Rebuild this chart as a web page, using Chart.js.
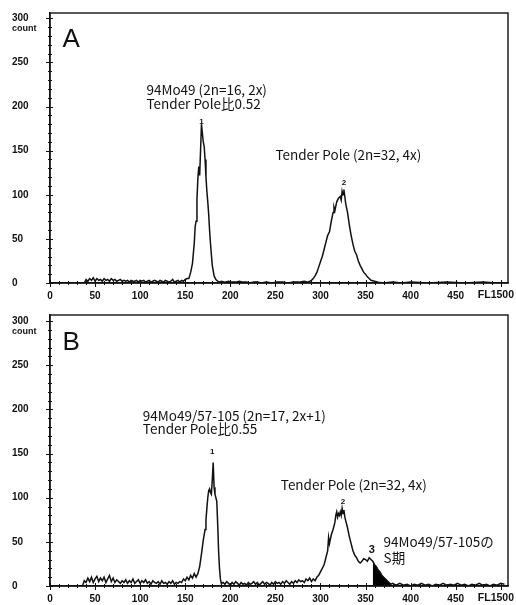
<!DOCTYPE html>
<html lang="ja">
<head>
<meta charset="UTF-8">
<title>FL1 histograms</title>
<script src="https://cdn.jsdelivr.net/npm/chart.js"></script>
<style>
  body { margin: 0; background: #fff; }
  canvas { display: block; }
</style>
</head>
<body>
<canvas id="chartA" width="516" height="300"></canvas>
<canvas id="chartB" width="516" height="305"></canvas>
<script>
// Panel A: FL1 channel / count
const channelsA = [
  38,40,42,44,46,48,50,52,54,56, 58,60,62,64,66,68,70,72,74,76,
  78,80,82,84,86,88,90,92,94,96, 98,100,102,104,106,108,110,112,114,116,
  118,120,122,124,126,128,130,132,134,136, 138,140,142,144,146,148,150,152,
  154,156,158,160,161,162,163,164,165,166,167,168,169,170,171,172,173,174,175,176,
  177,178,179,180,181,182,184,186,
  188,190,194,198,202,206,210,214,218,222,226,230,234,240,246,252,258,264,270,276,282,286,290,292,294,
  296,298,300,302,304,306,308,310,312,314,315,316,318,320,322,323,324,325,326,327,328,
  330,332,334,336,338,340,342,344,346,348,350,352,354,356,360,364,370,380,390,400,420,440,460,480,495
];
const countsA = [
  0,4,2,5,3,6,2,5,3,4, 2,5,3,4,2,5,3,4,2,3,
  4,2,3,2,3,1,3,2,2,3, 1,3,2,3,1,2,3,1,2,3,
  2,1,3,2,1,3,2,1,2,4, 1,2,3,1,3,2,4,5,
  5,12,22,45,64,70,95,118,132,122,150,180,170,160,155,140,120,104,92,78,
  60,45,32,20,14,8,4,2,
  1,2,1,2,1,1,2,1,1,0,1,1,0,1,0,1,1,0,1,1,2,1,3,5,8,
  12,18,24,30,38,46,54,58,70,80,86,82,92,96,98,94,104,100,106,98,90,
  80,66,54,44,36,32,25,20,16,12,10,7,5,3,2,1,0,1,0,1,0,1,0,1,0
];

// Panel B
const channelsB = [
  36,38,40,42,44,46,48,50,52,54, 56,58,60,62,64,66,68,70,72,74,
  76,78,80,82,84,86,88,90,92,94, 96,98,100,102,104,106,108,110,112,114,
  116,118,120,122,124,126,128,130,132,134, 136,138,140,142,144,146,148,150,152,154,
  156,158,160,162,
  164,166,168,170,171,172,173,174,175,176,177,178,179,180,181,182,183,184,185,186,187,188,189,190,
  192,194,196,198,200,202,204,206,208,210, 212,214,216,218,220,222,224,226,228,230,
  232,234,236,238,240,242,244,246,248,250, 252,254,256,258,260,262,264,266,268,270,
  272,274,276,278,280,282,284,286,288,290, 292,294,296,
  298,300,302,304,306,308,309,310,312,314,
  316,317,318,319,320,321,322,323,324,325,326,327,
  328,330,332,334,336,338,340,342,344,346,348,350,352,354,356,358,360,362,364,366,368,370,372,374,376,378,
  380,384,388,392,396,400,404,408,412,416,420,424,428,432,436,440,444,448,452,456,460,464,468,472,476,480,484,488,492,496,500,504
];
const countsB = [
  0,6,4,9,5,10,4,8,11,5, 9,6,10,4,8,12,5,9,4,7,
  5,3,6,4,7,3,6,4,8,3, 5,7,3,6,4,7,3,5,2,6,
  4,3,5,2,6,3,4,2,5,3, 6,2,4,3,5,4,8,6,10,7,
  12,9,14,10,
  14,22,36,52,58,64,75,88,100,108,110,106,104,120,140,112,104,100,96,70,40,20,8,3,
  4,2,5,3,1,4,2,5,3,1, 4,2,3,1,4,2,3,5,2,4,
  1,3,5,2,4,3,1,4,2,5, 3,4,2,5,3,6,4,2,5,3,
  6,4,7,5,6,4,8,6,9,5, 8,6,10,
  12,16,20,24,32,40,55,48,58,64,
  72,80,84,78,82,80,84,80,88,82,86,78,
  74,66,56,48,40,35,32,28,26,28,31,30,28,32,30,28,24,22,18,16,12,10,8,6,4,2,
  3,1,3,1,2,0,2,1,3,1,2,0,2,1,3,1,2,1,3,1,2,0,2,1,3,1,2,0,2,1,3,2
];
// S phase of 94Mo49/57-105 (shaded black)
const sPhaseRange = [358, 378];

const xTicks = [0, 50, 100, 150, 200, 250, 300, 350, 400, 450, 500];
const yTicks = [0, 50, 100, 150, 200, 250, 300];

const ink = '#111';
const tickFont = { family: 'Liberation Sans', size: 10, weight: 'bold' };
const noteFont = '13.5px "Noto Sans CJK JP"';

const notesA = [
  { text: 'A', x: 14, y: 276, font: '26px "Liberation Sans"' },
  { text: '94Mo49 (2n=16, 2x)', x: 107, y: 219, font: noteFont },
  { text: 'Tender Pole比0.52', x: 107, y: 203, font: noteFont },
  { text: '1', x: 168, y: 183, font: 'bold 8px "Liberation Sans"', align: 'center' },
  { text: 'Tender Pole (2n=32, 4x)', x: 250, y: 145, font: noteFont },
  { text: '2', x: 326, y: 114, font: 'bold 8px "Liberation Sans"', align: 'center' }
];
const notesB = [
  { text: 'B', x: 14, y: 276, font: '26px "Liberation Sans"' },
  { text: '94Mo49/57-105 (2n=17, 2x+1)', x: 103, y: 193, font: noteFont },
  { text: 'Tender Pole比0.55', x: 103, y: 178, font: noteFont },
  { text: '1', x: 180, y: 152, font: 'bold 8px "Liberation Sans"', align: 'center' },
  { text: 'Tender Pole (2n=32, 4x)', x: 256, y: 114, font: noteFont },
  { text: '2', x: 325, y: 95, font: 'bold 8px "Liberation Sans"', align: 'center' },
  { text: '3', x: 357, y: 41, font: 'bold 11px "Liberation Sans"', align: 'center' },
  { text: '94Mo49/57-105の', x: 370, y: 50, font: noteFont },
  { text: 'S期', x: 370, y: 32, font: noteFont }
];

// frame, major/minor ticks and text notes
const framePlugin = {
  id: 'frame',
  afterDatasetsDraw(chart, args, opts) {
    const { ctx, chartArea: a, scales: { x, y } } = chart;
    ctx.save();
    ctx.strokeStyle = ink;
    ctx.fillStyle = ink;
    ctx.lineWidth = 1.4;
    ctx.strokeRect(a.left, a.top, a.right - a.left, a.bottom - a.top);

    ctx.lineWidth = 1;
    ctx.beginPath();
    for (let v = 0; v <= 500; v += 10) {
      const px = Math.round(x.getPixelForValue(v)) + 0.5;
      const major = v % 50 === 0;
      ctx.moveTo(px, a.bottom - (major ? 3 : 2));
      ctx.lineTo(px, a.bottom + (major ? 4 : 2));
    }
    for (let v = 0; v <= 300; v += 10) {
      const py = Math.round(y.getPixelForValue(v)) + 0.5;
      const major = v % 50 === 0;
      ctx.moveTo(a.left - (major ? 4 : 2), py);
      ctx.lineTo(a.left + (major ? 3 : 2), py);
    }
    ctx.stroke();

    ctx.textBaseline = 'middle';
    opts.notes.forEach(n => {
      ctx.font = n.font;
      ctx.textAlign = n.align || 'left';
      ctx.fillText(n.text, x.getPixelForValue(n.x), y.getPixelForValue(n.y));
    });

    ctx.font = 'bold 9px "Liberation Sans"';
    ctx.textAlign = 'left';
    ctx.fillText('count', 12, y.getPixelForValue(300) + 10);
    ctx.font = 'bold 10.5px "Liberation Sans"';
    ctx.textAlign = 'right';
    ctx.fillText('FL1500', 514, a.bottom + 12);
    ctx.restore();
  }
};

function makeChart(id, channels, counts, yMax, padTop, xAxisH, notes, fillRange) {
  const points = channels.map((c, i) => ({ x: c, y: counts[i] }));
  const datasets = [{
    data: points,
    borderColor: ink,
    borderWidth: 1.5,
    pointRadius: 0,
    tension: 0,
    fill: false
  }];
  if (fillRange) {
    datasets.push({
      data: points.filter(p => p.x >= fillRange[0] && p.x <= fillRange[1]),
      borderColor: ink,
      borderWidth: 1,
      backgroundColor: '#000',
      pointRadius: 0,
      tension: 0,
      fill: 'origin'
    });
  }
  return new Chart(document.getElementById(id), {
    type: 'line',
    data: { datasets },
    options: {
      responsive: false,
      animation: false,
      layout: { padding: { left: 12, right: 8, top: padTop, bottom: 0 } },
      plugins: {
        legend: { display: false },
        tooltip: { enabled: false },
        frame: { notes }
      },
      scales: {
        x: {
          type: 'linear',
          min: 0,
          max: 508,
          afterBuildTicks: s => { s.ticks = xTicks.map(v => ({ value: v })); },
          afterFit: s => { s.height = xAxisH; },
          grid: { display: false, drawTicks: false },
          border: { display: true, color: ink, width: 1.4 },
          ticks: {
            autoSkip: false,
            maxRotation: 0,
            padding: 7,
            color: ink,
            font: tickFont,
            callback: v => (v === 500 ? '' : v)
          }
        },
        y: {
          min: 0,
          max: yMax,
          afterBuildTicks: s => { s.ticks = yTicks.map(v => ({ value: v })); },
          afterFit: s => { s.width = 38; },
          grid: { display: false, drawTicks: false },
          border: { display: true, color: ink, width: 1.4 },
          ticks: {
            crossAlign: 'far',
            color: ink,
            font: tickFont
          }
        }
      }
    },
    plugins: [framePlugin]
  });
}

makeChart('chartA', channelsA, countsA, 306, 13, 17, notesA, null);
makeChart('chartB', channelsB, countsB, 307, 15, 19, notesB, sPhaseRange);
</script>
</body>
</html>
